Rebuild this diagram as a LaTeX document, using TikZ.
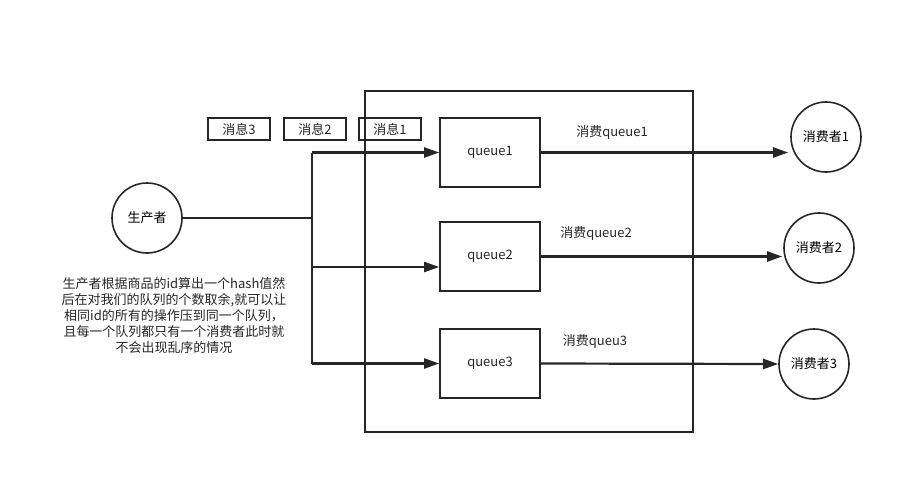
\documentclass[tikz,border=0pt]{standalone}
\usepackage{fontspec}
\setmainfont{Noto Sans CJK SC}
\usetikzlibrary{arrows.meta}
\begin{document}
\begin{tikzpicture}[x=1pt,y=-1pt,
  box/.style={draw=black!85,line width=1.6pt,inner sep=0pt},
  circ/.style={draw=black!85,line width=1.6pt,circle,minimum size=70pt,inner sep=0pt,font=\fontsize{13}{15}\selectfont},
  txt/.style={font=\fontsize{13}{15}\selectfont,text=black!85},
  conn/.style={draw=black!85,line width=2.2pt},
  arr/.style={conn,-{Triangle[length=15pt,width=10pt]}}]
\useasboundingbox (0,0) rectangle (924,493);
% container
\node[box,minimum width=328pt,minimum height=341pt,anchor=north west] (cont) at (364,90) {};
% messages
\node[box,minimum width=62pt,minimum height=22pt,txt] (m3) at (239,129) {消息3};
\node[box,minimum width=62pt,minimum height=22pt,txt] (m2) at (315,129) {消息2};
\node[box,minimum width=62pt,minimum height=22pt,txt] (m1) at (390,129) {消息1};
% queues
\node[box,minimum width=100pt,minimum height=69pt,txt] (q1) at (490,152.5) {queue1};
\node[box,minimum width=100pt,minimum height=69pt,txt] (q2) at (490,256.5) {queue2};
\node[box,minimum width=100pt,minimum height=69pt,txt] (q3) at (490,363.5) {queue3};
% producer and consumers
\node[circ] (p) at (147,218) {生产者};
\node[circ] (c1) at (826,137) {消费者1};
\node[circ] (c2) at (819,248) {消费者2};
\node[circ] (c3) at (814,364) {消费者3};
% branching
\coordinate (j) at (312,218);
\coordinate (j1) at (312,152.5);
\coordinate (j2) at (312,267);
\coordinate (j3) at (312,363.5);
\draw[conn] (p.east) -- (j);
\draw[conn] (j1) -- (j3);
\draw[arr] (j1) -- (q1.west);
\draw[arr] (j2) -- (q2.west |- j2);
\draw[arr] (j3) -- (q3.west);
% consumers
\coordinate (e1) at (c1.west |- q1.east);
\coordinate (e2) at (c2.west |- q2.east);
\draw[arr] (q1.east) -- ([xshift=-2pt]e1);
\draw[arr] (q2.east) -- ([xshift=-1pt]e2);
\draw[arr] (q3.east) -- (c3.west);
% labels
\node[txt] (l1) at (612,133) {消费queue1};
\node[txt] (l2) at (596,234) {消费queue2};
\node[txt] (l3) at (595,342) {消费queu3};
\node[txt,align=center,font=\fontsize{13}{16}\selectfont] (note) at (174,316) {生产者根据商品的id算出一个hash值然\\后在对我们的队列的个数取余,就可以让\\相同id的所有的操作压到同一个队列，\\且每一个队列都只有一个消费者此时就\\不会出现乱序的情况};
\end{tikzpicture}
\end{document}
